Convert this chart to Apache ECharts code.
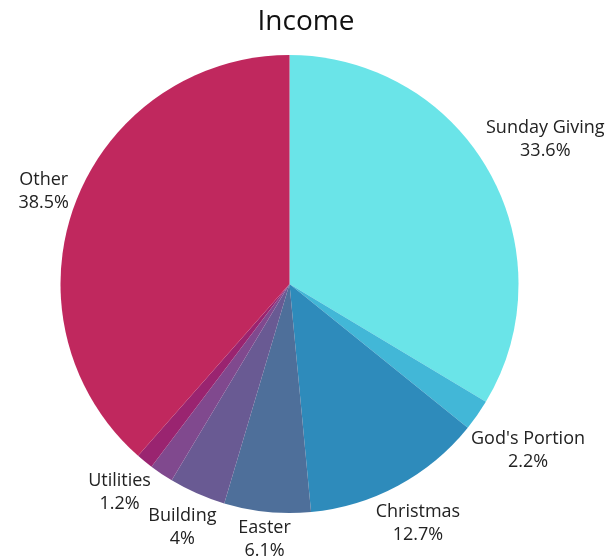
<!DOCTYPE html>
<html>
<head>
<meta charset="utf-8">
<script src="https://cdn.jsdelivr.net/npm/echarts@6/dist/echarts.min.js"></script>
<style>html,body{margin:0;padding:0;background:#fff}#c{width:612px;height:559px}</style>
</head>
<body>
<div id="c"></div>
<script>
const categories = ["Sunday Giving", "God's Portion", "Christmas", "Easter", "Building", "Other Income", "Utilities", "Other"];
const values = [33.6, 2.2, 12.7, 6.1, 4, 1.7, 1.2, 38.5];
const percentLabels = ["33.6%", "2.2%", "12.7%", "6.1%", "4%", "1.7%", "1.2%", "38.5%"];
const showLabel = [true, true, true, true, true, false, true, true];
const colors = ["#6ae4e8", "#42b7d7", "#2e8bbb", "#4e6f9a", "#695a93", "#80498e", "#9a2470", "#c0285e"];

const chart = echarts.init(document.getElementById('c'), null, {renderer: 'canvas'});
const FONT = "'Open Sans', 'Noto Sans', sans-serif";
const GAP = 2;

const data = categories.map((n, i) => ({
  name: n,
  value: values[i],
  itemStyle: {color: colors[i]},
  label: {show: showLabel[i]}
}));

chart.setOption({
  animation: false,
  title: {
    text: 'Income', left: 'center', top: 3,
    textStyle: {fontFamily: FONT, fontSize: 28, fontWeight: 'normal', color: '#111'}
  },
  series: [{
    type: 'pie',
    center: [289.5, 284],
    radius: 229,
    startAngle: 90,
    clockwise: true,
    avoidLabelOverlap: false,
    data: data,
    itemStyle: {borderWidth: 0},
    label: {
      show: true,
      position: 'outside',
      fontFamily: FONT,
      fontSize: 18,
      color: '#222',
      lineHeight: 23,
      formatter: p => '{a|' + p.name + '}\n{a|' + percentLabels[p.dataIndex] + '}',
      rich: {a: {align: 'center', fontFamily: FONT, fontSize: 18, color: '#222', lineHeight: 23}}
    },
    labelLine: {show: false, length: 10, length2: 0},
    labelLayout: function (params) {
      const s = chart.getModel().getSeriesByIndex(0).getData();
      const l = s.getItemLayout(params.dataIndex);
      const mid = (l.startAngle + l.endAngle) / 2;
      const dx = Math.cos(mid), dy = Math.sin(mid);
      const w = params.labelRect.width, h = params.labelRect.height;
      const ext = Math.abs(dx) * w / 2 + Math.abs(dy) * h / 2;
      const d = l.r + GAP + ext;
      return {x: l.cx + dx * d, y: l.cy + dy * d, align: 'center', verticalAlign: 'middle'};
    }
  }]
});
</script>
</body>
</html>
